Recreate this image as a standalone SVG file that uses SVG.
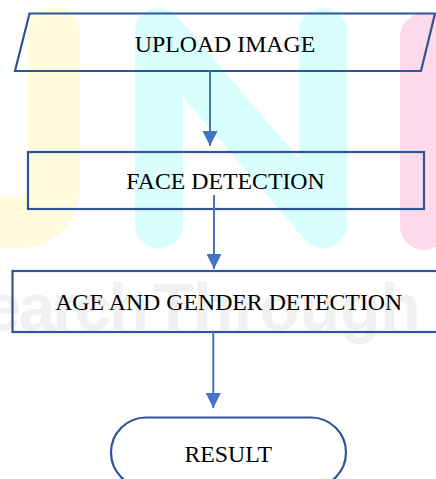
<svg xmlns="http://www.w3.org/2000/svg" width="436" height="479" viewBox="0 0 436 479">
  <style>
    .shape { fill: none; stroke: #2f5597; stroke-width: 2.2; }
    .label { font-family: "Liberation Serif", "Times New Roman", serif; font-size: 23.8px; fill: #000; text-anchor: middle; }
    .flow { fill: none; stroke: #4472c4; stroke-width: 2; }
    .wm { fill: none; stroke-linecap: round; stroke-linejoin: round; }
    .wm-text { font-family: "Liberation Sans", Arial, sans-serif; font-weight: bold; font-size: 66px; fill: #f1f1f1; }
  </style>
  <defs>
    <marker id="arrowhead" markerUnits="userSpaceOnUse" markerWidth="15" markerHeight="15" refX="15" refY="7.5" orient="auto">
      <path d="M0,0 L15,7.5 L0,15 Z" fill="#4472c4"/>
    </marker>
  </defs>

  <rect width="436" height="479" fill="#ffffff"/>

  <!-- background logo watermark -->
  <g id="watermark">
    <path class="wm" d="M54,33 L54,188 A34,34 0 0 1 20,222 L-20,222" stroke="#fffbdc" stroke-width="52"/>
    <path class="wm" d="M159,224 L159,32 L323,224 L323,32" stroke="#d8fefe" stroke-width="48"/>
    <path class="wm" d="M424,37 L424,226" stroke="#fed8eb" stroke-width="48"/>
    <text class="wm-text" x="146" y="330" text-anchor="end" letter-spacing="-3">Research</text>
    <text class="wm-text" x="153" y="330">Through</text>
  </g>

  <g id="upload-image">
    <polygon class="shape" points="29.5,13.5 435,13.5 421,71 15,71"/>
    <text class="label" x="225" y="52">UPLOAD IMAGE</text>
  </g>

  <g id="face-detection">
    <rect class="shape" x="28" y="152" width="396" height="57"/>
    <text class="label" x="225.5" y="189">FACE DETECTION</text>
  </g>

  <g id="age-gender-detection">
    <rect class="shape" x="12.5" y="271" width="440" height="61"/>
    <text class="label" x="228.7" y="310">AGE AND GENDER DETECTION</text>
  </g>

  <g id="result">
    <rect class="shape" x="111" y="417.5" width="235" height="70" rx="35" ry="35"/>
    <text class="label" x="228.3" y="461.7">RESULT</text>
  </g>

  <g id="connectors">
    <line class="flow" x1="210" y1="71" x2="210" y2="146" marker-end="url(#arrowhead)"/>
    <line class="flow" x1="214" y1="195" x2="214" y2="269" marker-end="url(#arrowhead)"/>
    <line class="flow" x1="213.3" y1="332" x2="213.3" y2="408" marker-end="url(#arrowhead)"/>
  </g>
</svg>
